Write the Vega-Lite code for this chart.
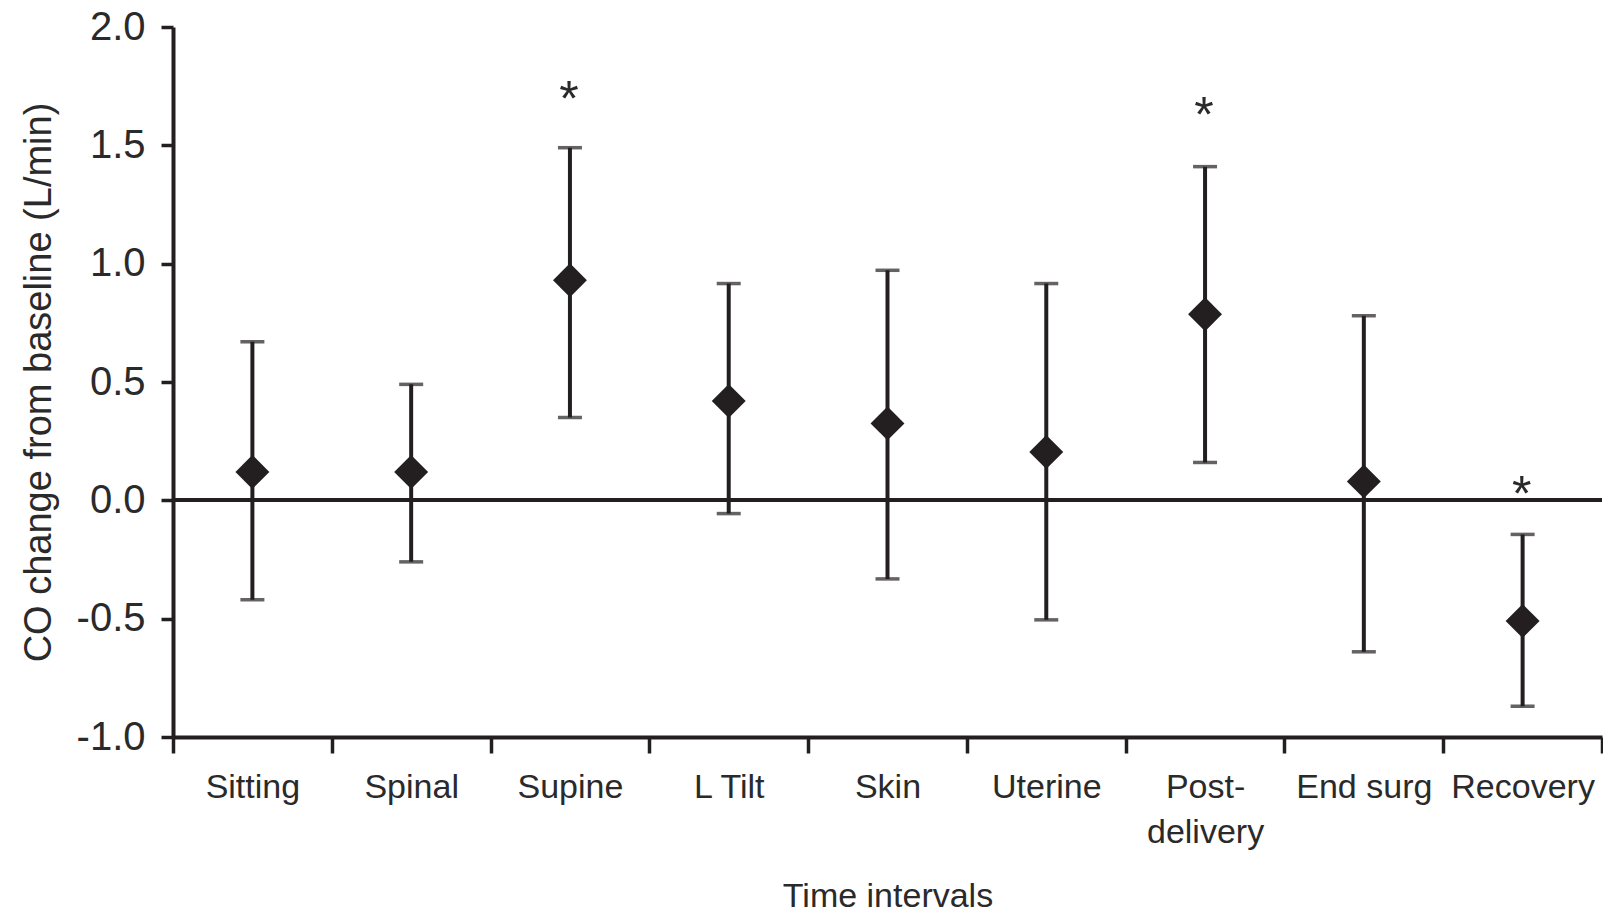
{
  "$schema": "https://vega.github.io/schema/vega-lite/v6.json",
  "width": 1429,
  "height": 710,
  "autosize": {"type": "none"},
  "padding": {"left": 173, "top": 27, "right": 1, "bottom": 179},
  "background": "white",
  "config": {
    "view": {"stroke": null},
    "font": "Liberation Sans",
    "axis": {"grid": false, "domainColor": "#231f20", "tickColor": "#231f20", "labelColor": "#2a2a2a", "titleColor": "#2a2a2a", "labelFont": "Liberation Sans", "titleFont": "Liberation Sans", "titleFontWeight": "normal"}
  },
  "data": {
    "values": [
      {"interval": "Sitting", "mean": 0.12, "lo": -0.42, "hi": 0.67, "star": null},
      {"interval": "Spinal", "mean": 0.12, "lo": -0.26, "hi": 0.49, "star": null},
      {"interval": "Supine", "mean": 0.93, "lo": 0.35, "hi": 1.49, "star": 1.71},
      {"interval": "L Tilt", "mean": 0.42, "lo": -0.056, "hi": 0.916, "star": null},
      {"interval": "Skin", "mean": 0.325, "lo": -0.332, "hi": 0.972, "star": null},
      {"interval": "Uterine", "mean": 0.204, "lo": -0.505, "hi": 0.916, "star": null},
      {"interval": "Post-delivery", "mean": 0.786, "lo": 0.16, "hi": 1.41, "star": 1.64},
      {"interval": "End surg", "mean": 0.08, "lo": -0.64, "hi": 0.78, "star": null},
      {"interval": "Recovery", "mean": -0.51, "lo": -0.87, "hi": -0.144, "star": 0.04}
    ]
  },
  "encoding": {
    "x": {
      "field": "interval",
      "type": "nominal",
      "sort": null,
      "scale": {"paddingInner": 0, "paddingOuter": 0},
      "axis": {
        "title": "Time intervals",
        "labelAngle": 0,
        "labelFontSize": 34,
        "titleFontSize": 34,
        "tickBand": "extent",
        "tickSize": 16,
        "tickWidth": 3.5,
        "domainWidth": 4,
        "labelPadding": 17,
        "titlePadding": 30,
        "labelLineHeight": 45,
        "labelExpr": "datum.value == 'Post-delivery' ? ['Post-', 'delivery'] : datum.value"
      }
    }
  },
  "layer": [
    {
      "mark": {"type": "rule", "color": "#231f20", "strokeWidth": 3.5},
      "encoding": {"y": {"datum": 0, "type": "quantitative"}, "x": null}
    },
    {
      "mark": {"type": "rule", "color": "#231f20", "strokeWidth": 4},
      "encoding": {
        "y": {
          "field": "lo",
          "type": "quantitative",
          "scale": {"domain": [-1, 2], "nice": false, "zero": false},
          "axis": {
            "title": "CO change from baseline (L/min)",
            "values": [-1, -0.5, 0, 0.5, 1, 1.5, 2],
            "labelExpr": "replace(format(datum.value, '.1f'), '\u2212', '-')",
            "labelFontSize": 40,
            "titleFontSize": 38,
            "tickSize": 12,
            "tickWidth": 3.5,
            "domainWidth": 4,
            "labelPadding": 16,
            "titlePadding": 18
          }
        },
        "y2": {"field": "hi"}
      }
    },
    {
      "mark": {"type": "tick", "color": "#231f20", "size": 24, "thickness": 3.5},
      "encoding": {"y": {"field": "lo", "type": "quantitative"}}
    },
    {
      "mark": {"type": "tick", "color": "#231f20", "size": 24, "thickness": 3.5},
      "encoding": {"y": {"field": "hi", "type": "quantitative"}}
    },
    {
      "mark": {"type": "point", "shape": "diamond", "filled": true, "color": "#231f20", "size": 1150, "opacity": 1},
      "encoding": {"y": {"field": "mean", "type": "quantitative"}}
    },
    {
      "mark": {"type": "text", "text": "*", "fontSize": 50, "color": "#2a2a2a", "baseline": "middle", "dy": 5, "dx": -1},
      "encoding": {"y": {"field": "star", "type": "quantitative"}}
    }
  ]
}
